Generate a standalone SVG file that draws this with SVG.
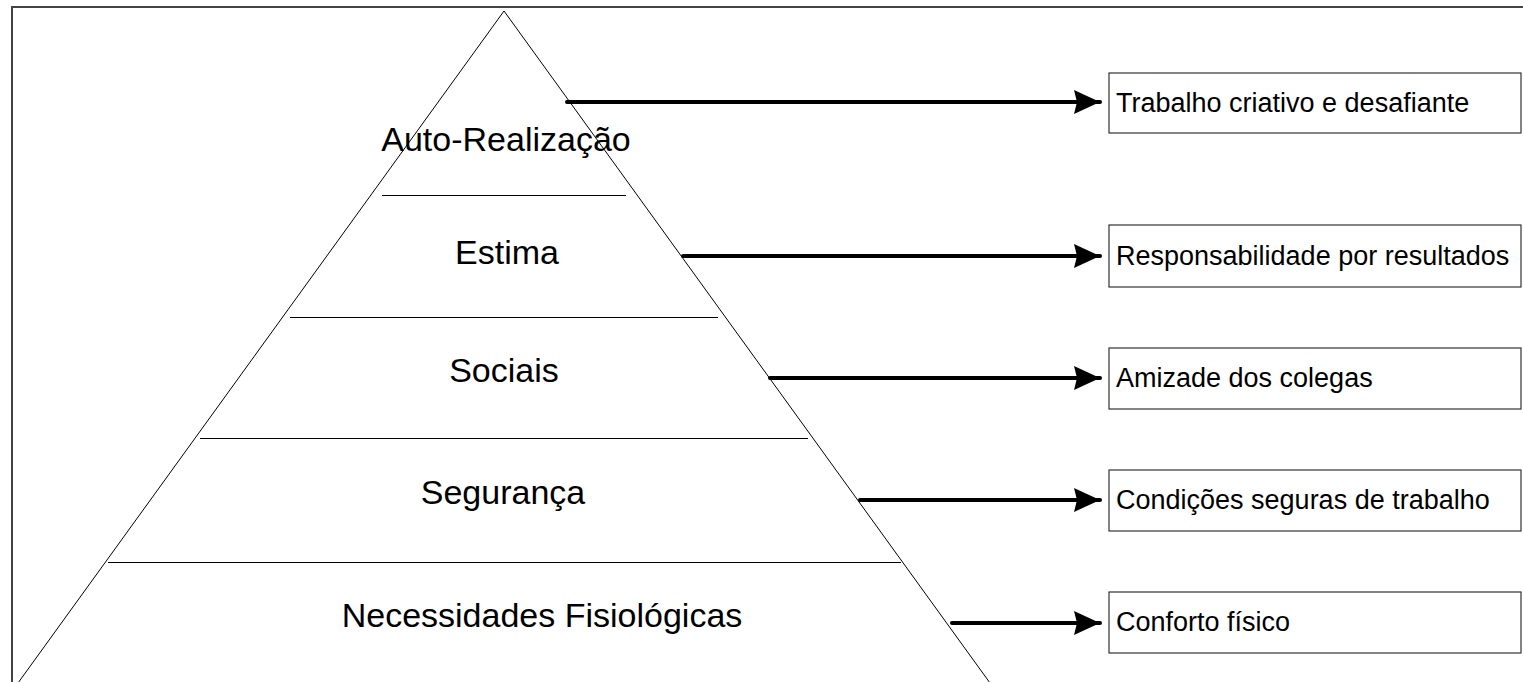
<svg xmlns="http://www.w3.org/2000/svg" width="1523" height="682" viewBox="0 0 1523 682">
<style>
.lvl{font-family:"Liberation Sans",Arial,sans-serif;font-size:34px;fill:#000;text-anchor:middle}
.bt{font-family:"Liberation Sans",Arial,sans-serif;font-size:27px;fill:#000}
.box{fill:#fff;stroke:#333;stroke-width:1.2}
.sep{stroke:#000;stroke-width:1}
.arr{stroke:#000;stroke-width:4;stroke-linecap:round;fill:none}
</style>
<defs>
<marker id="ah" markerUnits="userSpaceOnUse" markerWidth="28" markerHeight="26" refX="26" refY="12" orient="auto">
<path d="M0,0 L26,12 L0,24 L3,12 Z" fill="#000"/>
</marker>
</defs>
<rect x="0" y="0" width="1523" height="682" fill="#fff"/>
<rect x="12" y="7" width="1540" height="700" fill="none" stroke="#444" stroke-width="2"/>
<g id="pyramid">
<path d="M504,11 L18,683 M504,11 L990,683" stroke="#000" stroke-width="1" fill="none"/>
<line class="sep" x1="382" y1="195.5" x2="626" y2="195.5"/>
<line class="sep" x1="290" y1="317.5" x2="718" y2="317.5"/>
<line class="sep" x1="200" y1="438.5" x2="808" y2="438.5"/>
<line class="sep" x1="108" y1="562.5" x2="901" y2="562.5"/>
</g>
<g id="level-auto"><text class="lvl" x="506" y="151">Auto-Realização</text></g>
<g id="level-estima"><text class="lvl" x="507" y="264">Estima</text></g>
<g id="level-sociais"><text class="lvl" x="504" y="382">Sociais</text></g>
<g id="level-seguranca"><text class="lvl" x="503" y="504">Segurança</text></g>
<g id="level-fisio"><text class="lvl" x="542" y="627">Necessidades Fisiológicas</text></g>
<g id="connectors">
<line class="arr" x1="567" y1="102" x2="1100" y2="102" marker-end="url(#ah)"/>
<line class="arr" x1="683" y1="256" x2="1100" y2="256" marker-end="url(#ah)"/>
<line class="arr" x1="770" y1="378" x2="1100" y2="378" marker-end="url(#ah)"/>
<line class="arr" x1="860" y1="500" x2="1100" y2="500" marker-end="url(#ah)"/>
<line class="arr" x1="952" y1="623" x2="1100" y2="623" marker-end="url(#ah)"/>
</g>
<g id="box1"><rect class="box" x="1109" y="73" width="412" height="60"/><text class="bt" x="1116" y="112">Trabalho criativo e desafiante</text></g>
<g id="box2"><rect class="box" x="1109" y="225" width="412" height="62"/><text class="bt" x="1116" y="265">Responsabilidade por resultados</text></g>
<g id="box3"><rect class="box" x="1109" y="348" width="412" height="61"/><text class="bt" x="1116" y="387">Amizade dos colegas</text></g>
<g id="box4"><rect class="box" x="1109" y="470" width="412" height="61"/><text class="bt" x="1116" y="509">Condições seguras de trabalho</text></g>
<g id="box5"><rect class="box" x="1109" y="592" width="412" height="61"/><text class="bt" x="1116" y="631">Conforto físico</text></g>
</svg>
